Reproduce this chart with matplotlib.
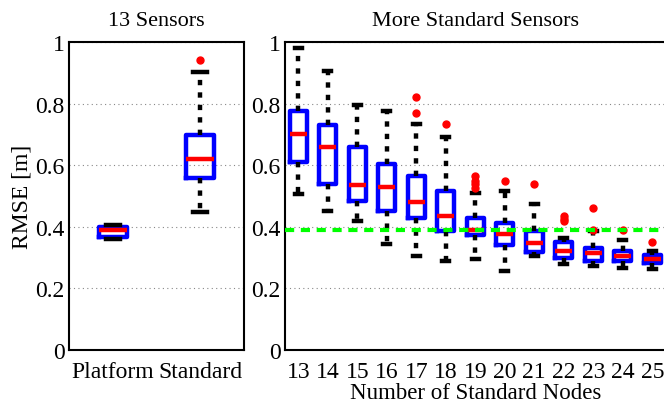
import numpy as np
import matplotlib
matplotlib.use("Agg")
import matplotlib.pyplot as plt

plt.rcParams['font.family'] = ['Liberation Serif', 'DejaVu Serif']

# left panel: 13 sensors
left_labels = ['Platform', 'Standard']
left_whislo = [0.362, 0.447]
left_q1 = [0.367, 0.557]
left_med = [0.390, 0.620]
left_q3 = [0.400, 0.698]
left_whishi = [0.405, 0.904]
left_fliers = [[], [0.943]]

# right panel: more standard sensors
nodes = [13, 14, 15, 16, 17, 18, 19, 20, 21, 22, 23, 24, 25]
right_whislo = [0.505, 0.45, 0.42, 0.345, 0.305, 0.29, 0.296, 0.255, 0.304, 0.279, 0.272, 0.266, 0.264]
right_q1 = [0.61, 0.54, 0.485, 0.45, 0.43, 0.385, 0.372, 0.34, 0.318, 0.30, 0.29, 0.288, 0.282]
right_med = [0.70, 0.66, 0.535, 0.53, 0.48, 0.435, 0.39, 0.377, 0.347, 0.322, 0.315, 0.306, 0.295]
right_q3 = [0.775, 0.73, 0.66, 0.605, 0.565, 0.515, 0.43, 0.412, 0.385, 0.35, 0.331, 0.32, 0.309]
right_whishi = [0.98, 0.905, 0.795, 0.775, 0.735, 0.69, 0.51, 0.515, 0.474, 0.364, 0.385, 0.356, 0.32]
right_fliers = [[], [], [], [], [0.82, 0.77], [0.735], [0.565, 0.55, 0.54, 0.525],
                [0.548], [0.539], [0.435, 0.425, 0.418], [0.461, 0.39], [0.39], [0.35]]

platform_ref = 0.39


def make_stats(lo, q1, med, q3, hi, fl):
    out = []
    for i in range(len(med)):
        out.append(dict(whislo=lo[i], q1=q1[i], med=med[i], q3=q3[i],
                        whishi=hi[i], fliers=fl[i]))
    return out


style = dict(
    showfliers=True,
    boxprops=dict(color='#0000ff', linewidth=3.2),
    medianprops=dict(color='#ff0000', linewidth=3.2),
    whiskerprops=dict(color='black', linewidth=3.2, linestyle=(0, (1.2, 1.6))),
    capprops=dict(color='black', linewidth=3.2),
    flierprops=dict(marker='o', markerfacecolor='#ff0000', markeredgecolor='#ff0000',
                    markersize=5),
)

fig = plt.figure(figsize=(6.64, 4.06), dpi=100)
ax1 = fig.add_axes([69 / 664, 55 / 406, 175 / 664, 308 / 406])
ax2 = fig.add_axes([285 / 664, 55 / 406, 382 / 664, 308 / 406])

ax1.bxp(make_stats(left_whislo, left_q1, left_med, left_q3, left_whishi, left_fliers),
        positions=[1, 2], widths=0.32, capwidths=0.16, **style)
ax1.set_xlim(0.5, 2.5)
ax1.set_xticks([1, 2])
ax1.set_xticklabels(left_labels)
ax1.set_title('13 Sensors', fontsize=16, pad=12)
ax1.set_ylabel('RMSE [m]', fontsize=17, labelpad=2)

ax2.bxp(make_stats(right_whislo, right_q1, right_med, right_q3, right_whishi, right_fliers),
        positions=nodes, widths=0.59, capwidths=0.25, **style)
ax2.axhline(platform_ref, color='#00ff00', linewidth=3, linestyle=(0, (2.2, 1.6)), zorder=5)
ax2.set_xlim(12.55, 25.5)
ax2.set_xticks(nodes)
ax2.set_xticklabels([str(n) for n in nodes])
ax2.set_title('More Standard Sensors', fontsize=16, pad=12)
ax2.set_xlabel('Number of Standard Nodes', fontsize=16.5, labelpad=0)

yt = [0, 0.2, 0.4, 0.6, 0.8, 1]
for ax in (ax1, ax2):
    ax.set_ylim(0, 1)
    ax.set_yticks(yt)
    ax.set_yticklabels(['0', '0.2', '0.4', '0.6', '0.8', '1'])
    ax.tick_params(length=0, labelsize=17)
    ax.tick_params(axis='x', pad=8)
    ax.tick_params(axis='y', pad=3)
    ax.yaxis.grid(True, linestyle=(0, (1, 3)), color='#888888', linewidth=0.8)
    ax.set_axisbelow(True)
    for s in ax.spines.values():
        s.set_linewidth(1.5)

fig.savefig('out.png', dpi=100)
